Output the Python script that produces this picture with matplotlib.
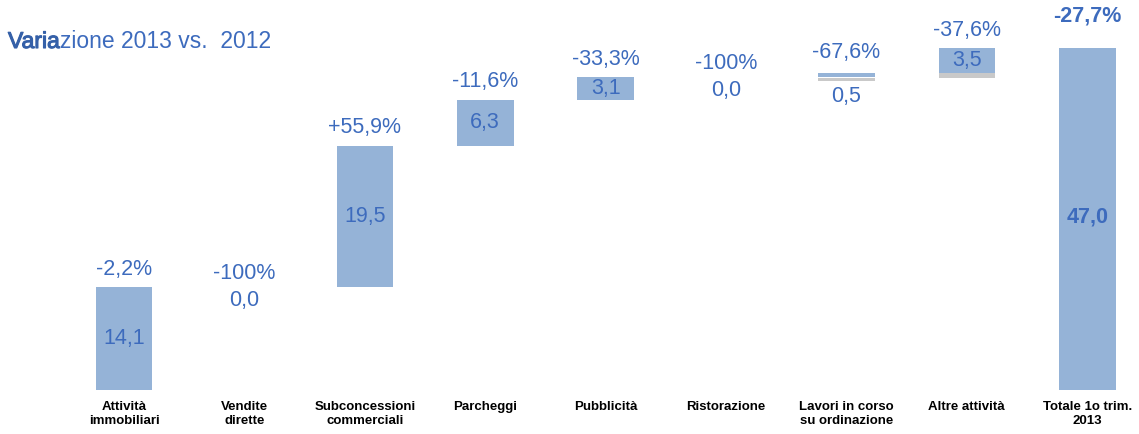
import matplotlib.pyplot as plt
import matplotlib.patheffects as pe
import numpy as np

plt.rcParams['font.family'] = ['Liberation Sans', 'DejaVu Sans']

categories = ['Attività\nimmobiliari', 'Vendite\ndirette', 'Subconcessioni\ncommerciali',
              'Parcheggi', 'Pubblicità', 'Ristorazione', 'Lavori in corso\nsu ordinazione',
              'Altre attività', 'Totale 1o trim.\n2013']
values = [14.1, 0.0, 19.5, 6.3, 3.1, 0.0, 0.5, 3.5]
total = 47.0
pct_labels = ['-2,2%', '-100%', '+55,9%', '-11,6%', '-33,3%', '-100%', '-67,6%', '-37,6%', '-27,7%']

bar_color = '#95b3d7'
text_color = '#3d6bbd'
fs = 15.5

fig = plt.figure(figsize=(11.39, 4.34), dpi=100)
ax = fig.add_axes([0, 44 / 434, 1, 390 / 434])
ax.set_xlim(-1.03, 8.43)
ax.set_ylim(0, 53.6)
ax.axis('off')

px = 53.6 / 390  # data units per pixel
bases = np.concatenate([[0], np.cumsum(values)[:-1]])
x = np.arange(len(categories))
w = 0.47

for i, (b, v) in enumerate(zip(bases, values)):
    if v > 0:
        bars = ax.bar(x[i], v, bottom=b, width=w, color=bar_color, zorder=2)
        if i in (6, 7):
            bars[0].set_path_effects([pe.SimplePatchShadow(offset=(0, -3), shadow_rgbFace='#888888', alpha=0.45), pe.Normal()])
    lbl = f'{v:.1f}'.replace('.', ',')
    top = b + v
    if v == 0:
        ax.text(x[i], b + 14 * px, pct_labels[i], ha='center', va='center', fontsize=fs, color=text_color)
        ax.text(x[i], b - 13 * px, lbl, ha='center', va='center', fontsize=fs, color=text_color)
    elif v < 1:
        ax.text(x[i], top + 21 * px, pct_labels[i], ha='center', va='center', fontsize=fs, color=text_color)
        ax.text(x[i], top - 23 * px, lbl, ha='center', va='center', fontsize=fs, color=text_color)
    else:
        ax.text(x[i], top + 18 * px, pct_labels[i], ha='center', va='center', fontsize=fs, color=text_color)
        ax.text(x[i], b + v / 2, lbl, ha='center', va='center', fontsize=fs, color=text_color)

# total bar
ax.bar(x[-1], total, width=w, color=bar_color, zorder=2)
ax.text(x[-1], total + 32 * px, pct_labels[-1], ha='center', va='center', fontsize=fs,
        color=text_color, fontweight='bold')
ax.text(x[-1], 173 * px, f'{total:.1f}'.replace('.', ','), ha='center', va='center',
        fontsize=fs, color=text_color, fontweight='bold')

# category labels
for i, c in enumerate(categories):
    ax.text(x[i], -11 * px, c, ha='center', va='top', fontsize=9.5, fontweight='bold',
            color='black', linespacing=1.2)

# title: "Varia" a bit heavier, rest attached right after it
t1 = fig.text(8 / 1139, 1 - 48 / 434, 'Varia', ha='left', va='baseline', fontsize=16.5,
              color='#3560a8', path_effects=[pe.withStroke(linewidth=0.8, foreground='#3560a8')])
fig.canvas.draw()
bb = t1.get_window_extent()
fig.text(bb.x1 / 1139, 1 - 48 / 434, 'zione 2013 vs.  2012', ha='left', va='baseline',
         fontsize=16.5, color=text_color)

fig.savefig('out.png', dpi=100)
